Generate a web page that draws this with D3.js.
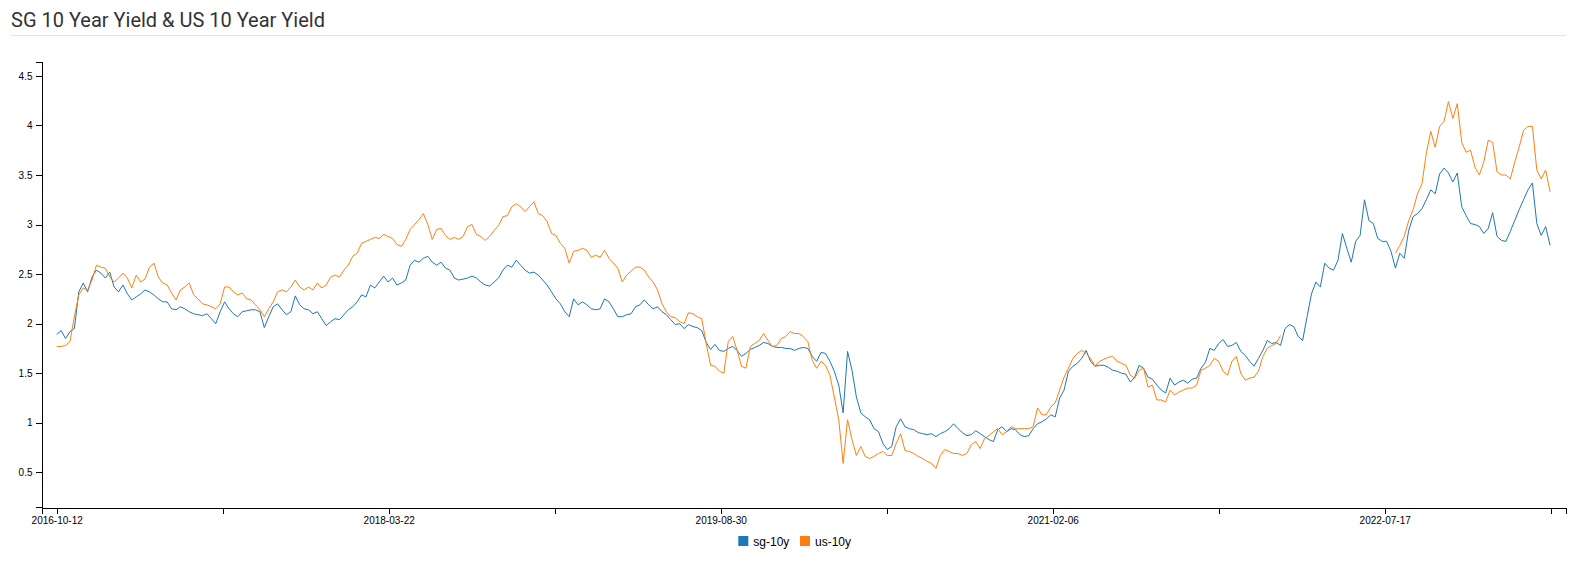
<!DOCTYPE html>
<html>
<head>
<meta charset="utf-8">
<script src="https://cdn.jsdelivr.net/npm/d3@7"></script>
<style>
  html, body { margin: 0; padding: 0; background: #fff; }
  svg { display: block; }
  .title { font-family: Roboto, "Open Sans", sans-serif; font-size: 20px; fill: #333; }
  .axis text { font-family: "Liberation Sans", Arial, sans-serif; font-size: 10px; fill: #000; }
  .axis path, .axis line { stroke: #000; shape-rendering: crispEdges; }
  .legend text { font-family: "Liberation Sans", Arial, sans-serif; font-size: 12px; fill: #000; }
</style>
</head>
<body>
<svg id="chart" width="1577" height="565"></svg>
<script>
// ---------- data ----------
const startDate = "2016-10-12";     // first observation
const stepDays = 7;                  // weekly samples
const seriesNames = ["sg-10y", "us-10y"];
const seriesColors = ["#1f77b4", "#ff7f0e"];
const yTickValues = [0.5, 1, 1.5, 2, 2.5, 3, 3.5, 4, 4.5];
const xTickStepDays = 263;
const xTickCount = 10;

const sg10y = [
1.89,1.93,1.85,1.92,1.95,2.32,2.41,2.32,2.47,2.54,
2.51,2.46,2.52,2.37,2.32,2.39,2.30,2.24,2.27,2.30,
2.34,2.32,2.29,2.25,2.22,2.22,2.15,2.14,2.17,2.15,
2.12,2.10,2.09,2.08,2.10,2.05,2.00,2.12,2.22,2.15,
2.10,2.07,2.12,2.13,2.14,2.14,2.12,1.96,2.07,2.17,
2.20,2.14,2.09,2.12,2.28,2.19,2.15,2.14,2.10,2.12,
2.05,1.98,2.02,2.05,2.04,2.09,2.14,2.17,2.22,2.29,
2.27,2.39,2.36,2.42,2.48,2.42,2.46,2.39,2.41,2.44,
2.59,2.64,2.62,2.66,2.68,2.62,2.59,2.62,2.56,2.54,
2.46,2.44,2.45,2.46,2.48,2.46,2.42,2.39,2.38,2.42,
2.46,2.54,2.59,2.57,2.64,2.59,2.54,2.51,2.52,2.49,
2.44,2.39,2.32,2.25,2.20,2.12,2.07,2.25,2.19,2.22,
2.19,2.15,2.14,2.15,2.25,2.22,2.15,2.07,2.07,2.09,
2.10,2.17,2.19,2.24,2.19,2.15,2.17,2.12,2.09,2.04,
1.99,2.00,1.95,1.99,1.97,1.96,1.93,1.81,1.74,1.79,
1.73,1.72,1.75,1.77,1.73,1.67,1.70,1.74,1.76,1.78,
1.81,1.80,1.77,1.76,1.76,1.75,1.75,1.73,1.75,1.76,
1.75,1.67,1.62,1.71,1.70,1.62,1.52,1.38,1.10,1.72,
1.53,1.26,1.10,1.06,1.03,0.94,0.91,0.79,0.73,0.76,
0.96,1.04,0.96,0.94,0.93,0.90,0.89,0.88,0.89,0.86,
0.89,0.91,0.94,0.99,0.94,0.90,0.87,0.88,0.92,0.89,
0.86,0.83,0.81,0.93,0.96,0.91,0.94,0.93,0.88,0.86,
0.87,0.94,0.99,1.01,1.04,1.08,1.06,1.25,1.33,1.52,
1.57,1.60,1.65,1.73,1.62,1.57,1.58,1.58,1.56,1.53,
1.52,1.50,1.49,1.41,1.46,1.58,1.55,1.46,1.44,1.38,
1.33,1.30,1.45,1.38,1.41,1.43,1.40,1.44,1.45,1.55,
1.61,1.75,1.73,1.80,1.84,1.77,1.78,1.81,1.72,1.68,
1.62,1.57,1.65,1.73,1.83,1.80,1.81,1.78,1.95,1.99,
1.97,1.87,1.83,2.07,2.30,2.42,2.37,2.61,2.56,2.54,
2.64,2.91,2.76,2.62,2.83,2.89,3.25,3.04,3.01,2.86,
2.83,2.83,2.73,2.56,2.71,2.66,2.94,3.08,3.11,3.16,
3.25,3.35,3.31,3.51,3.57,3.52,3.43,3.52,3.18,3.09,
3.01,3.00,2.98,2.91,2.96,3.12,2.88,2.84,2.83,2.93,
3.04,3.15,3.25,3.35,3.42,3.01,2.89,2.98,2.79
];

const us10y = [
1.77,1.77,1.78,1.82,2.07,2.29,2.36,2.34,2.44,2.59,
2.57,2.56,2.47,2.42,2.46,2.51,2.46,2.36,2.49,2.42,
2.45,2.57,2.61,2.47,2.41,2.39,2.31,2.24,2.34,2.37,
2.41,2.29,2.25,2.20,2.19,2.17,2.15,2.20,2.37,2.37,
2.32,2.29,2.31,2.25,2.24,2.19,2.14,2.07,2.15,2.22,
2.32,2.34,2.32,2.37,2.44,2.37,2.34,2.37,2.34,2.41,
2.36,2.39,2.47,2.49,2.47,2.54,2.59,2.68,2.71,2.81,
2.83,2.85,2.87,2.86,2.90,2.88,2.86,2.80,2.78,2.85,
2.95,3.00,3.05,3.11,3.00,2.85,2.95,2.96,2.89,2.85,
2.87,2.85,2.88,2.98,3.00,2.90,2.88,2.84,2.88,2.94,
2.99,3.08,3.09,3.18,3.21,3.18,3.13,3.18,3.23,3.11,
3.09,3.03,2.91,2.89,2.81,2.76,2.61,2.73,2.74,2.76,
2.74,2.67,2.69,2.67,2.74,2.66,2.61,2.56,2.42,2.49,
2.53,2.57,2.57,2.54,2.47,2.42,2.34,2.20,2.12,2.07,
2.06,2.02,2.00,2.11,2.10,2.07,2.05,1.80,1.58,1.57,
1.52,1.50,1.82,1.87,1.73,1.57,1.55,1.77,1.80,1.83,
1.90,1.83,1.77,1.78,1.85,1.87,1.92,1.90,1.90,1.87,
1.82,1.63,1.55,1.62,1.58,1.48,1.26,1.03,0.59,1.03,
0.83,0.67,0.76,0.66,0.64,0.66,0.69,0.71,0.67,0.67,
0.79,0.89,0.72,0.71,0.69,0.66,0.64,0.61,0.59,0.54,
0.67,0.73,0.71,0.69,0.69,0.67,0.69,0.78,0.81,0.74,
0.84,0.87,0.91,0.94,0.88,0.91,0.96,0.94,0.94,0.94,
0.94,0.96,1.15,1.08,1.08,1.16,1.20,1.33,1.46,1.55,
1.65,1.70,1.73,1.70,1.65,1.57,1.62,1.64,1.66,1.67,
1.62,1.60,1.58,1.48,1.45,1.53,1.55,1.36,1.38,1.23,
1.23,1.21,1.33,1.28,1.31,1.33,1.35,1.35,1.38,1.53,
1.55,1.58,1.65,1.62,1.52,1.48,1.62,1.67,1.50,1.43,
1.45,1.46,1.52,1.67,1.75,1.78,1.80,1.88,null,null,
null,null,null,null,null,null,null,null,null,null,
null,null,null,null,null,null,null,null,null,null,
null,null,null,2.71,2.79,2.88,3.04,3.15,3.31,3.41,
3.72,3.94,3.78,3.99,4.04,4.24,4.07,4.22,3.83,3.73,
3.75,3.58,3.50,3.63,3.85,3.83,3.53,3.50,3.50,3.46,
3.63,3.78,3.95,3.99,3.99,3.55,3.46,3.55,3.33
];

// ---------- build ----------
const DAY = 86400000;
const t0 = new Date(startDate + "T00:00:00Z");
const dates = sg10y.map((_, i) => new Date(t0.getTime() + i * stepDays * DAY));
const xTicks = d3.range(xTickCount).map(k => new Date(t0.getTime() + k * xTickStepDays * DAY));
const fmt = d3.utcFormat("%Y-%m-%d");

const svg = d3.select("#chart");

// title
svg.append("text").attr("class", "title").attr("x", 11).attr("y", 27)
  .text("SG 10 Year Yield & US 10 Year Yield");
svg.append("line").attr("x1", 11).attr("x2", 1566).attr("y1", 35.5).attr("y2", 35.5)
  .attr("stroke", "#e3e3e3").attr("stroke-width", 1);

// scales
const plotLeft = 41.5, plotRight = 1565.5, plotTop = 62, plotBottom = 507;
const dataLeft = 56.7, dataRight = 1550.7;
const tFirst = dates[0].getTime(), tLast = xTicks[xTickCount - 1].getTime();
const msPerPx = (tLast - tFirst) / (dataRight - dataLeft);
const x = d3.scaleUtc()
  .domain([new Date(tFirst - (dataLeft - plotLeft) * msPerPx), new Date(tLast + (plotRight - dataRight) * msPerPx)])
  .range([plotLeft, plotRight]);
const y = d3.scaleLinear().domain([0.15, 4.64]).range([plotBottom, plotTop]);

// axes
svg.append("g").attr("class", "axis").attr("transform", `translate(${plotLeft},0)`)
  .call(d3.axisLeft(y).tickValues(yTickValues).tickFormat(d3.format("")));
svg.append("g").attr("class", "axis").attr("transform", `translate(0,${plotBottom + 0.5})`)
  .call(d3.axisBottom(x).tickValues(xTicks).tickFormat((d, i) => i % 2 === 0 ? fmt(d) : ""));

// lines
const series = [sg10y, us10y];
series.forEach((vals, s) => {
  const line = d3.line()
    .defined(d => d[1] != null)
    .x(d => x(d[0]))
    .y(d => y(d[1]));
  svg.append("path")
    .datum(vals.map((v, i) => [dates[i], v]))
    .attr("fill", "none")
    .attr("stroke", seriesColors[s])
    .attr("stroke-width", 1)
    .attr("d", line);
});

// legend
const legend = svg.append("g").attr("class", "legend");
const legendX = [738.3, 800];
seriesNames.forEach((name, s) => {
  const g = legend.append("g").attr("transform", `translate(${legendX[s]},536)`);
  g.append("rect").attr("width", 10).attr("height", 10).attr("fill", seriesColors[s]);
  g.append("text").attr("x", 15).attr("y", 9.5).text(name);
});
</script>
</body>
</html>
